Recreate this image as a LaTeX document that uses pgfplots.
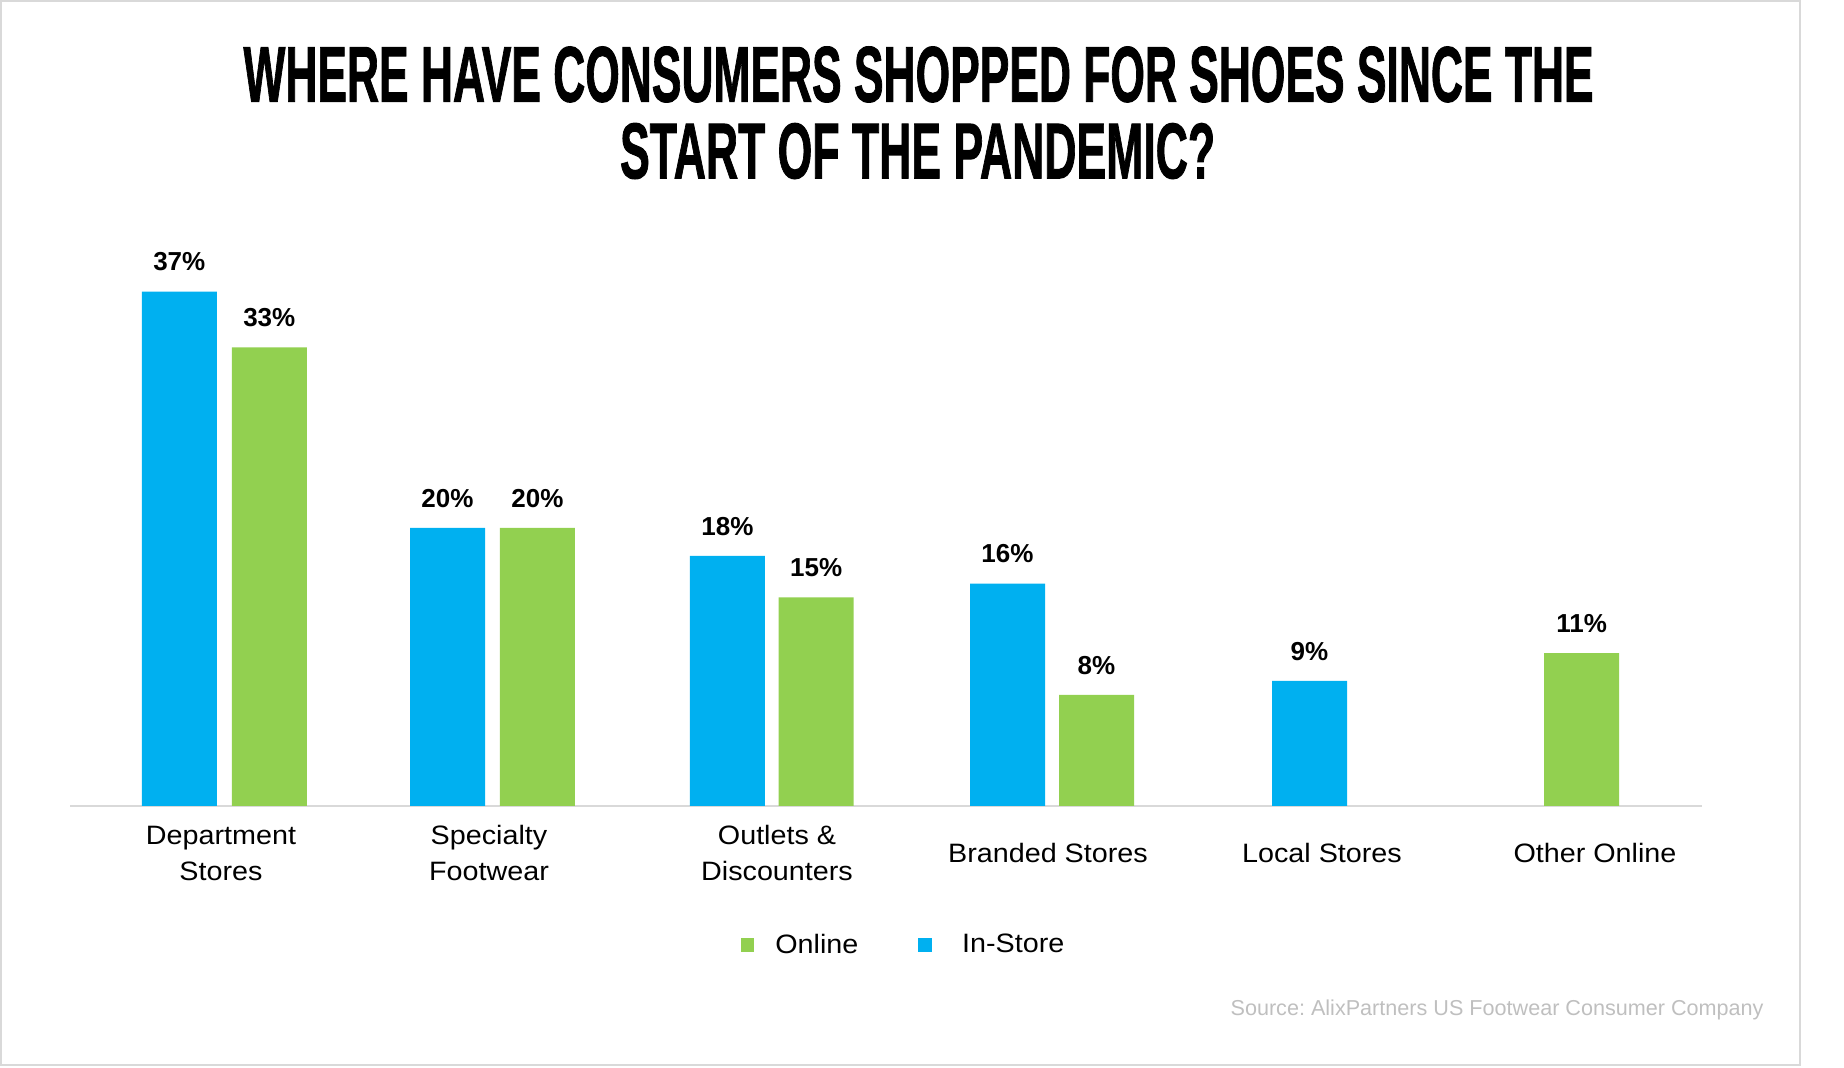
\documentclass[border=0pt]{standalone}
\usepackage{fontspec}
\setmainfont{Liberation Sans}
\newfontfamily\titlefont{Liberation Sans}[BoldFeatures={FakeBold=1.5}]
\newfontfamily\catfont{Liberation Sans}[FakeStretch=1.08]
\usepackage{pgfplots}
\pgfplotsset{compat=1.18}
\definecolor{instore}{HTML}{00B0F0}
\definecolor{online}{HTML}{92D050}
\definecolor{lgray}{HTML}{D9D9D9}
\definecolor{sgray}{HTML}{BFBFBF}
\begin{document}
\frenchspacing
\begin{tikzpicture}[x=1pt,y=1pt]
\path[use as bounding box] (0,0) rectangle (922,534);
\draw[lgray, line width=1pt] (0.5,1.5) rectangle (900,533.5);
\node[anchor=base, inner sep=0pt] at (459.3,483.2) {\resizebox{675pt}{27.5pt}{\titlefont\bfseries WHERE HAVE CONSUMERS SHOPPED FOR SHOES SINCE THE}};
\node[anchor=base, inner sep=0pt] at (458.8,444.9) {\resizebox{297.5pt}{27.5pt}{\titlefont\bfseries START OF THE PANDEMIC?}};
\begin{axis}[
  at={(35pt,131pt)}, anchor=south west,
  scale only axis, width=816pt, height=278pt,
  xmin=70, xmax=1702, ymin=0, ymax=40,
  clip=false,
  axis x line=bottom, axis y line=none,
  x axis line style={-, draw=lgray, line width=1pt},
  ytick=\empty,
  xtick={221,489,777,1048,1322,1595},
  xticklabels={{\strut Department\\\strut Stores},{\strut Specialty\\\strut Footwear},{\strut Outlets \&\\\strut Discounters},{\strut Branded Stores},{\strut Local Stores},{\strut Other Online}},
  major tick length=0pt,
  xticklabel style={font=\catfont\fontsize{13.3}{18}\selectfont, align=center, anchor=center, yshift=-24.55pt},
  ybar,
  bar width=37.5pt,
  /pgf/number format/assume math mode=true,
  nodes near coords={\pgfmathprintnumber{\pgfplotspointmeta}\%},
  every node near coord/.append style={font=\bfseries\fontsize{13}{15}\selectfont, text=black, inner sep=0pt, anchor=south, yshift=10pt},
  legend columns=2,
  legend style={draw=none, fill=none, at={(0.5101,-0.25)}, anchor=center,
    font=\catfont\fontsize{13.3}{16}\selectfont,
    cells={anchor=west},
    nodes={inner sep=0pt},
    /tikz/every even column/.append style={column sep=30pt}},
]
\addplot[draw=none, fill=online, bar shift=0pt,
  legend image code/.code={\fill[online] (0pt,-3.425pt) rectangle (6.85pt,3.425pt); \path (17.35pt,0pt);}]
  coordinates {(269.3,33) (537.4,20) (816.2,15) (1096.5,8) (1581.7,11)};
\addlegendentry{Online}
\addplot[draw=none, fill=instore, bar shift=0pt,
  legend image code/.code={\fill[instore] (0pt,-3.425pt) rectangle (6.85pt,3.425pt); \path (21.85pt,0pt);}]
  coordinates {(179.3,37) (447.5,20) (727.4,18) (1007.5,16) (1309.5,9)};
\addlegendentry{In-Store}
\end{axis}
\node[anchor=base east, inner sep=0pt, text=sgray, font=\fontsize{10.8}{13}\selectfont] at (882,26.15) {Source: AlixPartners US Footwear Consumer Company};
\end{tikzpicture}
\end{document}
